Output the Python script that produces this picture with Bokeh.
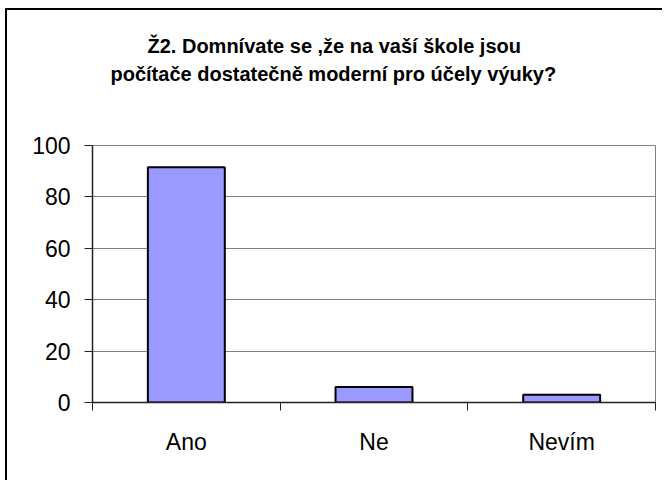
from bokeh.plotting import figure
from bokeh.models import (Range1d, FixedTicker, Title, ColumnDataSource)
from bokeh.embed import file_html
from bokeh.resources import INLINE

categories = ["Ano", "Ne", "Nevím"]
values = [91.5, 6.0, 3.0]
y_ticks = [0, 20, 40, 60, 80, 100]
title_lines = ["Ž2. Domnívate se ,že na vaší škole jsou",
               "počítače dostatečně moderní pro účely výuky?"]

FONT = "Liberation Sans"

n = len(categories)
x_pos = [i + 0.5 for i in range(n)]          # category centres
x_bounds = [float(i) for i in range(n + 1)]  # category boundaries

p = figure(width=657, height=472,
           x_range=Range1d(0, n),
           y_range=Range1d(0, 100),
           output_backend="svg", toolbar_location=None,
           min_border_left=85, min_border_top=135,
           min_border_right=9, min_border_bottom=80,
           background_fill_color="white", border_fill_color="white")

xax = p.xaxis[0]
xax.ticker = FixedTicker(ticks=x_pos, minor_ticks=x_bounds)
xax.major_label_overrides = {x: c for x, c in zip(x_pos, categories)}
xax.major_tick_line_color = None
xax.major_tick_out = 0
xax.major_tick_in = 0
xax.minor_tick_out = 8
xax.minor_tick_in = 0
xax.minor_tick_line_color = "#222222"
xax.axis_line_color = "#222222"
xax.axis_line_width = 1.5
xax.major_label_standoff = 18
xax.major_label_text_font = FONT
xax.major_label_text_font_size = "23px"
xax.major_label_text_color = "black"

yax = p.yaxis[0]
yax.ticker = FixedTicker(ticks=y_ticks)
yax.major_tick_out = 8
yax.major_tick_in = 0
yax.minor_tick_line_color = None
yax.major_tick_line_color = "#222222"
yax.axis_line_color = "#222222"
yax.axis_line_width = 1.5
yax.major_label_standoff = 14
yax.major_label_text_font = FONT
yax.major_label_text_font_size = "23px"
yax.major_label_text_color = "black"

p.ygrid.ticker = FixedTicker(ticks=y_ticks)
p.ygrid.grid_line_color = "#808080"
p.ygrid.grid_line_width = 1
p.xgrid.visible = False

p.outline_line_color = "#808080"
p.outline_line_width = 1

src = ColumnDataSource(dict(x=x_pos, cat=categories, val=values))
p.vbar(x="x", top="val", width=0.41, source=src,
       fill_color="#9999FF", line_color="black", line_width=2)

# spacer between plot area and title, then the two title lines (inner first)
p.add_layout(Title(text=" ", standoff=56, text_font=FONT,
                   text_font_size="1px", text_color="white"), "above")
p.add_layout(Title(text=title_lines[1], align="left", offset=18, standoff=4,
                   text_font=FONT, text_font_style="bold",
                   text_font_size="20px", text_color="black"), "above")
p.add_layout(Title(text=title_lines[0], align="left", offset=55, standoff=4,
                   text_font=FONT, text_font_style="bold",
                   text_font_size="20px", text_color="black"), "above")

p.stylesheets = [":host { border-top: 2px solid #000; border-left: 2px solid #000;"
                 " margin: 8px 0 0 5px; }"]

open("out.html", "w").write(file_html(p, INLINE))
